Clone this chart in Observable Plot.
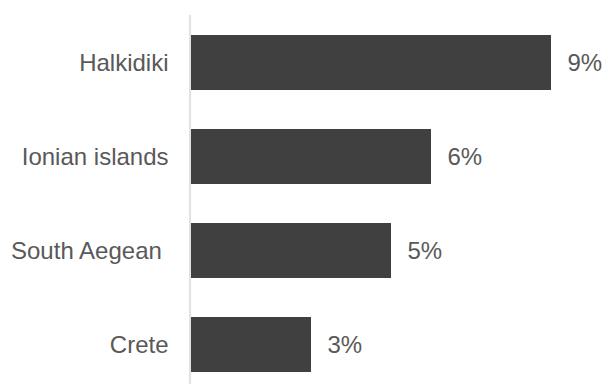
<!DOCTYPE html>
<html><head><meta charset="utf-8">
<script src="https://cdn.jsdelivr.net/npm/d3@7"></script>
<script src="https://cdn.jsdelivr.net/npm/@observablehq/plot@0.6"></script>
<style>body{margin:0;background:#fff}</style>
</head><body><div id="chart"></div>
<script>
const regions = ["Halkidiki", "Ionian islands", "South Aegean\u00a0", "Crete"];
const shares = [9, 6, 5, 3];
const shareLabels = ["9%", "6%", "5%", "3%"];
const data = regions.map((r, i) => ({region: r, share: shares[i], label: shareLabels[i]}));

const chart = Plot.plot({
  width: 603, height: 384,
  marginLeft: 191, marginRight: 12, marginTop: 15, marginBottom: 0,
  style: {fontFamily: "'Liberation Sans', Arial, sans-serif", background: "#fff", color: "#595959"},
  x: {domain: [0, 10], axis: null},
  y: {domain: regions, range: [34, 372], paddingInner: 0.415, paddingOuter: 0, axis: null},
  marks: [
    Plot.barX(data, {x: "share", y: "region", fill: "#404040"}),
    Plot.ruleX([0], {stroke: "#d9d9d9", strokeWidth: 1.5, dx: -1.5}),
    Plot.axisY({tickSize: 0, tickPadding: 23, fontSize: 24, fill: "#595959", label: null}),
    Plot.text(data, {x: "share", y: "region", text: "label", textAnchor: "start", dx: 16, fill: "#595959", fontSize: 24})
  ]
});
document.getElementById("chart").appendChild(chart);
</script>
</body></html>
